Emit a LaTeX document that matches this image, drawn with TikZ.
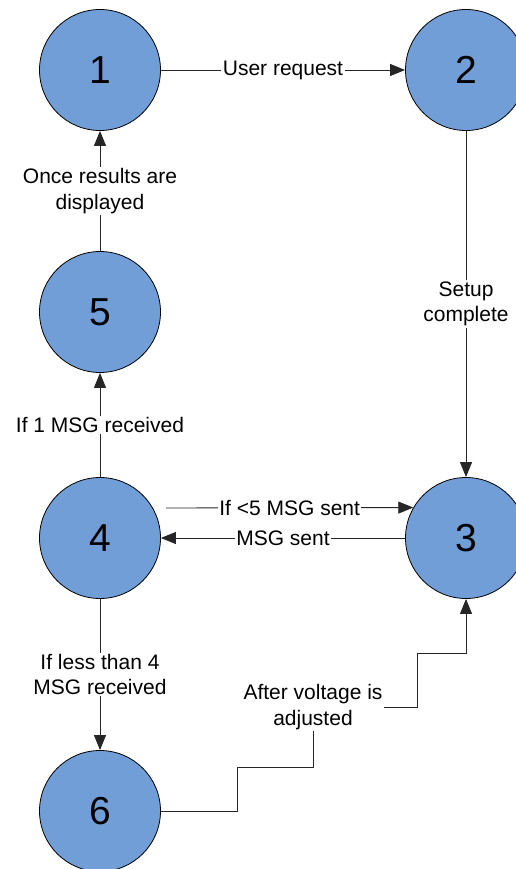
\documentclass[tikz,border=0pt]{standalone}
\usepackage{fontspec}
\setmainfont{Liberation Sans}
\usetikzlibrary{arrows.meta}
\definecolor{statefill}{RGB}{114,158,216}
\tikzset{
  state/.style={circle, draw=black, line width=0.8pt, fill=statefill,
    minimum size=121pt, inner sep=0pt,
    font=\fontsize{39}{42}\selectfont},
  link/.style={draw=black!85, line width=0.9pt,
    -{Triangle[length=15pt,width=12pt]}},
  lbl/.style={fill=white, inner sep=1.5pt, align=center,
    font=\fontsize{21}{25.5}\selectfont}
}
\begin{document}
\begin{tikzpicture}[x=1pt, y=-1pt]
\useasboundingbox (0,0) rectangle (516,869);

% states
\node[state] (n1) at (100,70)  {1};
\node[state] (n2) at (466,70)  {2};
\node[state] (n5) at (100,312) {5};
\node[state] (n4) at (100,538) {4};
\node[state] (n3) at (466,538) {3};
\node[state] (n6) at (100,811) {6};

% transitions
\draw[link] (n1) -- node[lbl] {User request} (n2);
\draw[link] (n2) -- node[lbl] {Setup\\complete} (n3);
\coordinate (s43) at (166,508);
\draw[link] (s43) -- node[lbl] {If <5 MSG sent} (n3.150);
\draw[link] (n3) -- node[lbl] {MSG sent} (n4);
\draw[link] (n4) -- node[lbl] {If 1 MSG received} (n5);
\draw[link] (n5) -- node[lbl] {Once results are\\displayed} (n1);
\draw[link] (n4) -- node[lbl] {If less than 4\\MSG received} (n6);

% stepped connector from 6 back to 3
\coordinate (b1) at (237,811);
\coordinate (b2) at (237,767);
\coordinate (b3) at (313,767);
\coordinate (b4) at (313,707);
\coordinate (b5) at (417,707);
\coordinate (b6) at (417,653);
\coordinate (b7) at (466,653);
\draw[link] (n6.east) -- (b1) -- (b2) -- (b3) -- (b4)
  node[lbl] {After voltage is\\adjusted}
  -- (b5) -- (b6) -- (b7) -- (n3.south);
\end{tikzpicture}
\end{document}
